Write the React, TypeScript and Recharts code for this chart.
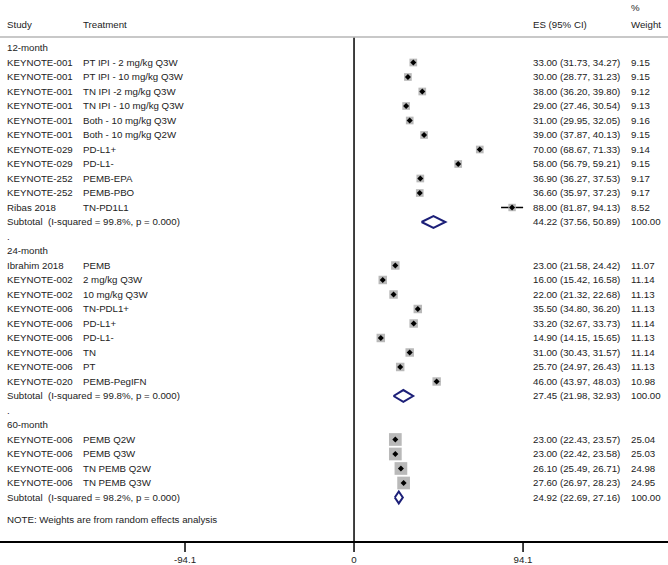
import { ComposedChart, Scatter, XAxis, YAxis, ReferenceLine, ErrorBar } from "recharts";

const groups = ["12-month", "24-month", "60-month"];

const studies = [
  "KEYNOTE-001", "KEYNOTE-001", "KEYNOTE-001", "KEYNOTE-001", "KEYNOTE-001", "KEYNOTE-001",
  "KEYNOTE-029", "KEYNOTE-029", "KEYNOTE-252", "KEYNOTE-252", "Ribas 2018",
  "Ibrahim 2018", "KEYNOTE-002", "KEYNOTE-002", "KEYNOTE-006", "KEYNOTE-006", "KEYNOTE-006",
  "KEYNOTE-006", "KEYNOTE-006", "KEYNOTE-020",
  "KEYNOTE-006", "KEYNOTE-006", "KEYNOTE-006", "KEYNOTE-006",
];
const treatments = [
  "PT IPI - 2 mg/kg Q3W", "PT IPI - 10 mg/kg Q3W", "TN IPI -2 mg/kg Q3W", "TN IPI - 10 mg/kg Q3W",
  "Both - 10 mg/kg Q3W", "Both - 10 mg/kg Q2W", "PD-L1+", "PD-L1-", "PEMB-EPA", "PEMB-PBO", "TN-PD1L1",
  "PEMB", "2 mg/kg Q3W", "10 mg/kg Q3W", "TN-PDL1+", "PD-L1+", "PD-L1-", "TN", "PT", "PEMB-PegIFN",
  "PEMB Q2W", "PEMB Q3W", "TN PEMB Q2W", "TN PEMB Q3W",
];
const groupOf = [0, 0, 0, 0, 0, 0, 0, 0, 0, 0, 0, 1, 1, 1, 1, 1, 1, 1, 1, 1, 2, 2, 2, 2];
const esValues = [33.0, 30.0, 38.0, 29.0, 31.0, 39.0, 70.0, 58.0, 36.9, 36.6, 88.0, 23.0, 16.0, 22.0, 35.5, 33.2, 14.9, 31.0, 25.7, 46.0, 23.0, 23.0, 26.1, 27.6];
const ciLow = [31.73, 28.77, 36.2, 27.46, 29.95, 37.87, 68.67, 56.79, 36.27, 35.97, 81.87, 21.58, 15.42, 21.32, 34.8, 32.67, 14.15, 30.43, 24.97, 43.97, 22.43, 22.42, 25.49, 26.97];
const ciHigh = [34.27, 31.23, 39.8, 30.54, 32.05, 40.13, 71.33, 59.21, 37.53, 37.23, 94.13, 24.42, 16.58, 22.68, 36.2, 33.73, 15.65, 31.57, 26.43, 48.03, 23.57, 23.58, 26.71, 28.23];
const weights = [9.15, 9.15, 9.12, 9.13, 9.16, 9.15, 9.14, 9.15, 9.17, 9.17, 8.52, 11.07, 11.14, 11.13, 11.13, 11.14, 11.13, 11.14, 11.13, 10.98, 25.04, 25.03, 24.98, 24.95];

const subtotalES = [44.22, 27.45, 24.92];
const subtotalLow = [37.56, 21.98, 22.69];
const subtotalHigh = [50.89, 32.93, 27.16];
const subtotalI2 = ["99.8%", "99.8%", "98.2%"];

const xTicks = [-94.1, 0, 94.1];

const FONT = "'Liberation Sans', Arial, Helvetica, sans-serif";
const TEXT = "#222";
const NAVY = "#1c1f78";
const DIAMOND_HALF = 0.41;

const fmt = (v: number) => v.toFixed(2);

// build table rows
type Row = { x: number; y: number; study?: string; treat?: string; es?: string; wt?: string };
const labelRows: Row[] = [
  { x: 0, y: -2.76, wt: "%" },
  { x: 0, y: -1.6, study: "Study", treat: "Treatment", es: "ES (95% CI)", wt: "Weight" },
];
const studyPoints: any[] = [];
const diamonds: any[][] = [];
let r = 0;
groups.forEach((g, gi) => {
  labelRows.push({ x: 0, y: r, study: g });
  r++;
  studies.forEach((s, i) => {
    if (groupOf[i] !== gi) return;
    labelRows.push({
      x: 0,
      y: r,
      study: s,
      treat: treatments[i],
      es: `${fmt(esValues[i])} (${fmt(ciLow[i])}, ${fmt(ciHigh[i])})`,
      wt: fmt(weights[i]),
    });
    studyPoints.push({ x: esValues[i], y: r, w: weights[i], err: [esValues[i] - ciLow[i], ciHigh[i] - esValues[i]] });
    r++;
  });
  labelRows.push({
    x: 0,
    y: r,
    study: `Subtotal  (I-squared = ${subtotalI2[gi]}, p = 0.000)`,
    es: `${fmt(subtotalES[gi])} (${fmt(subtotalLow[gi])}, ${fmt(subtotalHigh[gi])})`,
    wt: "100.00",
  });
  diamonds.push([
    { x: subtotalLow[gi], y: r },
    { x: subtotalES[gi], y: r - DIAMOND_HALF },
    { x: subtotalHigh[gi], y: r },
    { x: subtotalES[gi], y: r + DIAMOND_HALF },
    { x: subtotalLow[gi], y: r },
  ]);
  r++;
  if (gi < groups.length - 1) {
    labelRows.push({ x: 0, y: r, study: "." });
    r++;
  }
});
labelRows.push({ x: 0, y: r + 0.55, study: "NOTE: Weights are from random effects analysis" });

const LabelShape = (props: any) => {
  const { cy, payload } = props;
  const t = { fontSize: 9.7, fill: TEXT, fontFamily: FONT, dy: "0.35em", style: { whiteSpace: "pre" as const } };
  return (
    <g>
      {payload.study && <text x={7} y={cy} {...t}>{payload.study}</text>}
      {payload.treat && <text x={83} y={cy} {...t}>{payload.treat}</text>}
      {payload.es && <text x={533} y={cy} {...t}>{payload.es}</text>}
      {payload.wt && <text x={631} y={cy} {...t}>{payload.wt}</text>}
    </g>
  );
};

const BoxShape = (props: any) => {
  const { cx, cy, payload } = props;
  const s = 2.54 * Math.sqrt(payload.w);
  return <rect x={cx - s / 2} y={cy - s / 2} width={s} height={s} fill="#b9b9b9" />;
};

const DotShape = (props: any) => {
  const { cx, cy } = props;
  const d = 3;
  return <polygon points={`${cx - d},${cy} ${cx},${cy - d} ${cx + d},${cy} ${cx},${cy + d}`} fill="#000" />;
};

const Empty = () => <g />;

export default function App() {
  return (
    <div style={{ position: "absolute", left: 0, top: 0, width: 668, height: 565, background: "#fff" }}>
      <ComposedChart width={668} height={565} margin={{ top: 0, right: 0, bottom: 0, left: 0 }}>
        <XAxis
          type="number"
          dataKey="x"
          domain={[-197.1, 174.8]}
          ticks={xTicks}
          allowDataOverflow
          height={23}
          tickSize={10}
          tickMargin={4}
          axisLine={{ stroke: "#000", strokeWidth: 1.8 }}
          tickLine={{ stroke: "#000", strokeWidth: 1.5 }}
          tick={{ fontSize: 9.7, fill: TEXT, fontFamily: FONT }}
        />
        <YAxis type="number" dataKey="y" domain={[-3.31, 34.07]} reversed hide allowDataOverflow />
        <ReferenceLine y={-0.76} stroke="#c8c8c8" strokeWidth={2} />
        <ReferenceLine
          segment={[{ x: 0, y: -0.7 }, { x: 0, y: 34.07 }]}
          stroke="#000"
          strokeWidth={1.5}
        />
        <Scatter data={labelRows} shape={LabelShape} isAnimationActive={false} />
        <Scatter data={studyPoints} shape={BoxShape} isAnimationActive={false} />
        <Scatter data={studyPoints} shape={DotShape} isAnimationActive={false}>
          <ErrorBar dataKey="err" direction="x" width={0} stroke="#000" strokeWidth={1.5} />
        </Scatter>
        {diamonds.map((d, i) => (
          <Scatter
            key={i}
            data={d}
            line={{ stroke: NAVY, strokeWidth: 2 }}
            lineType="joint"
            shape={Empty}
            isAnimationActive={false}
          />
        ))}
      </ComposedChart>
    </div>
  );
}
